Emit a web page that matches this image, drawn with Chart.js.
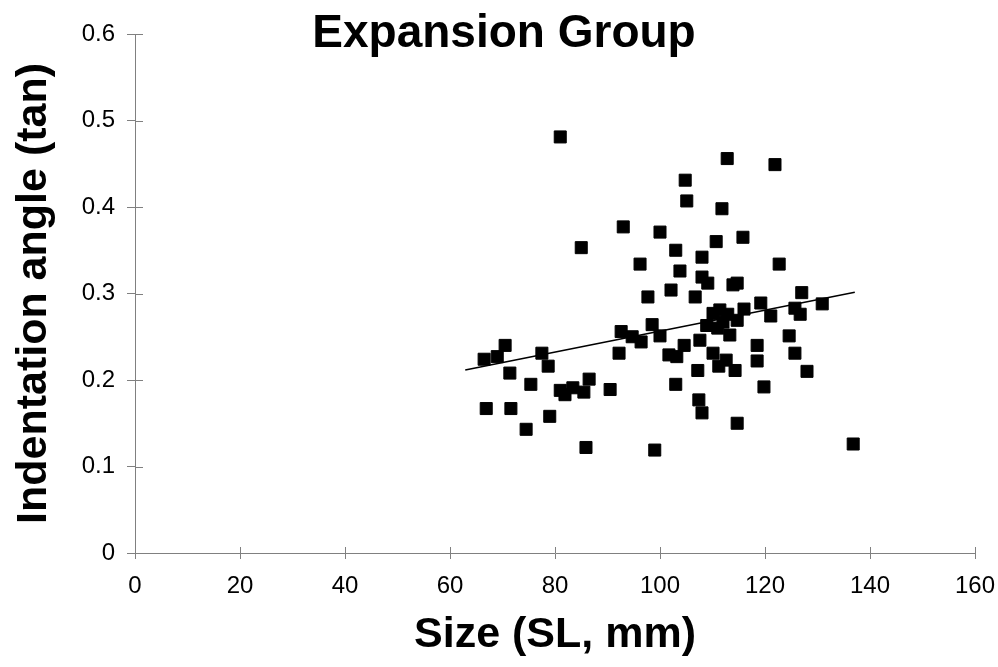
<!DOCTYPE html>
<html>
<head>
<meta charset="utf-8">
<title>Expansion Group</title>
<script src="https://cdn.jsdelivr.net/npm/chart.js@4.4.1/dist/chart.umd.min.js"></script>
<style>
    body { margin: 0; background: #fff; }
    canvas { display: block; }
</style>
</head>
<body>
<canvas id="graficoExpansao" width="998" height="667"></canvas>
<script>
// valores (x = tamanho SL em mm, y = angulo de indentacao em tan)
const sizeMm = [
    70.5, 66.5, 69.0, 77.5, 78.7, 71.4, 75.4, 66.9, 71.6, 79.0,
    74.5, 86.5, 81.0, 83.4, 81.9, 85.5, 90.5, 85.9, 99.0, 81.0,
    85.0, 93.0, 100.0, 104.8, 105.1, 112.8, 121.9, 111.8, 103.0, 110.7,
    115.8, 108.0, 96.2, 103.8, 108.0, 109.1, 113.9, 114.7, 122.7, 102.1,
    97.7, 106.7, 127.0, 119.2, 116.0, 121.1, 125.7, 126.7, 130.9, 110.1,
    111.4, 112.9, 108.9, 111.0, 112.0, 114.7, 113.3, 107.6, 104.6, 110.1,
    112.6, 118.5, 118.5, 124.6, 125.7, 128.0, 119.8, 98.5, 92.6, 94.7,
    96.4, 100.0, 101.7, 103.2, 92.2, 111.2, 114.3, 107.2, 103.0, 107.4,
    108.0, 114.7, 136.8
];
const angleTan = [
    0.240, 0.224, 0.227, 0.231, 0.216, 0.208, 0.195, 0.167, 0.167, 0.158,
    0.143, 0.201, 0.188, 0.191, 0.183, 0.186, 0.189, 0.122, 0.119, 0.481,
    0.353, 0.377, 0.371, 0.431, 0.407, 0.456, 0.449, 0.398, 0.350, 0.360,
    0.365, 0.342, 0.334, 0.326, 0.319, 0.312, 0.310, 0.312, 0.334, 0.304,
    0.296, 0.296, 0.301, 0.289, 0.282, 0.274, 0.283, 0.276, 0.288, 0.277,
    0.281, 0.276, 0.263, 0.260, 0.267, 0.269, 0.252, 0.246, 0.240, 0.231,
    0.223, 0.240, 0.222, 0.251, 0.231, 0.210, 0.192, 0.264, 0.256, 0.250,
    0.244, 0.251, 0.229, 0.227, 0.231, 0.216, 0.211, 0.211, 0.195, 0.177,
    0.162, 0.150, 0.126
];

// reta de tendencia (extremos)
const fitSize = [62.9, 137.1];
const fitAngle = [0.2115, 0.3015];

const chartTitle = "Expansion Group";
const xAxisTitle = "Size (SL, mm)";
const yAxisTitle = "Indentation angle (tan)";

const fonte = "'Liberation Sans', Arial, sans-serif";
const cinzaEixo = '#808080';

// tracinhos para dentro da area do grafico (os de fora vem do proprio Chart.js)
const ticksInternos = {
    id: 'ticksInternos',
    afterDatasetsDraw(chart) {
        const ctx = chart.ctx;
        const x = chart.scales.x;
        const y = chart.scales.y;
        ctx.save();
        ctx.strokeStyle = cinzaEixo;
        ctx.lineWidth = 1;
        ctx.beginPath();
        x.ticks.forEach(t => {
            const px = Math.round(x.getPixelForValue(t.value)) + 0.5;
            ctx.moveTo(px, y.bottom);
            ctx.lineTo(px, y.bottom - 6);
        });
        y.ticks.forEach(t => {
            const py = Math.round(y.getPixelForValue(t.value)) + 0.5;
            ctx.moveTo(x.left, py);
            ctx.lineTo(x.left + 8, py);
        });
        ctx.stroke();
        ctx.restore();
    }
};

// titulo desenhado por cima da area (no original ele invade o topo do grafico)
const tituloSobreposto = {
    id: 'tituloSobreposto',
    afterDraw(chart) {
        const ctx = chart.ctx;
        ctx.save();
        ctx.fillStyle = '#000';
        ctx.font = "bold 46px " + fonte;
        ctx.textAlign = 'center';
        ctx.textBaseline = 'alphabetic';
        ctx.fillText(chartTitle, 504, 47);
        ctx.restore();
    }
};

const pontos = sizeMm.map((v, i) => ({ x: v, y: angleTan[i] }));
const reta = fitSize.map((v, i) => ({ x: v, y: fitAngle[i] }));

const ctx = document.getElementById('graficoExpansao').getContext('2d');
new Chart(ctx, {
    type: 'scatter',
    data: {
        datasets: [{
            data: pontos,
            pointStyle: 'rect',
            pointRadius: 8.5,
            pointBorderWidth: 1,
            backgroundColor: '#000',
            borderColor: '#000'
        }, {
            type: 'line',
            data: reta,
            showLine: true,
            pointRadius: 0,
            borderColor: '#000',
            borderWidth: 1.5,
            fill: false
        }]
    },
    options: {
        responsive: false,
        animation: false,
        layout: {
            padding: { left: 0, top: 34, right: 23, bottom: 0 }
        },
        plugins: {
            legend: { display: false },
            tooltip: { enabled: false }
        },
        scales: {
            x: {
                type: 'linear',
                min: 0,
                max: 160,
                afterFit: function (scale) {
                    scale.height = 114;
                    scale.paddingLeft = 0;
                    scale.paddingRight = 0;
                },
                ticks: {
                    stepSize: 20,
                    padding: 13,
                    color: '#000',
                    font: { family: fonte, size: 24 }
                },
                grid: {
                    drawOnChartArea: false,
                    drawTicks: true,
                    tickLength: 6,
                    color: cinzaEixo
                },
                border: { color: cinzaEixo, width: 1 },
                title: {
                    display: true,
                    text: xAxisTitle,
                    color: '#000',
                    font: { family: fonte, size: 43, weight: 'bold' },
                    padding: { top: 0, bottom: 6 }
                }
            },
            y: {
                type: 'linear',
                min: 0,
                max: 0.6,
                afterFit: function (scale) {
                    scale.width = 135;
                    scale.paddingTop = 0;
                    scale.paddingBottom = 0;
                },
                ticks: {
                    stepSize: 0.1,
                    padding: 12,
                    color: '#000',
                    font: { family: fonte, size: 24 }
                },
                grid: {
                    drawOnChartArea: false,
                    drawTicks: true,
                    tickLength: 8,
                    color: cinzaEixo
                },
                border: { color: cinzaEixo, width: 1 },
                title: {
                    display: true,
                    text: yAxisTitle,
                    color: '#000',
                    font: { family: fonte, size: 43, weight: 'bold' },
                    padding: { top: 8, bottom: 0 }
                }
            }
        }
    },
    plugins: [ticksInternos, tituloSobreposto]
});
</script>
</body>
</html>
